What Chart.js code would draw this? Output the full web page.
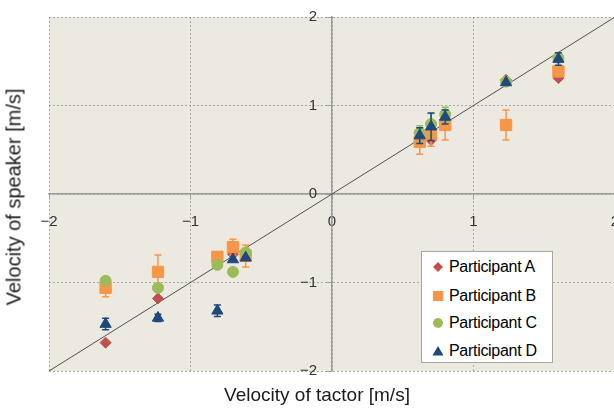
<!DOCTYPE html>
<html>
<head>
<meta charset="utf-8">
<script src="https://cdn.jsdelivr.net/npm/chart.js@4/dist/chart.umd.min.js"></script>
<style>
  html, body { margin: 0; padding: 0; background: #ffffff; overflow: hidden; }
  #wrap { position: relative; width: 614px; height: 408px; overflow: hidden; }
  #box { position: absolute; left: 0; top: 0; width: 624px; height: 408px; }
  .title { position: absolute; font-family: "Liberation Sans", Arial, sans-serif; color: #1a1a1a; white-space: nowrap; }
  #xtitle { left: 0; width: 634px; top: 384px; text-align: center; font-size: 19px; }
  #ytitle { left: 14px; top: 197px; transform: translate(-50%, -50%) rotate(-90deg); font-size: 20px; }
  #legend { position: absolute; left: 421px; top: 251px; width: 130px; height: 110px; background: #ffffff; border: 1px solid #a6a6a6; font-family: "Liberation Sans", Arial, sans-serif; font-size: 16px; color: #000; }
  .item { position: absolute; left: 10px; height: 20px; line-height: 20px; white-space: nowrap; letter-spacing: -0.3px; }
  .item svg { position: absolute; left: 0; top: 4px; }
  .item span { position: absolute; left: 17px; top: 0; }
</style>
</head>
<body>
<div id="wrap">
  <div id="box"><canvas id="c" width="624" height="408"></canvas></div>
  <div class="title" id="xtitle">Velocity of tactor [m/s]</div>
  <div class="title" id="ytitle">Velocity of speaker [m/s]</div>
  <div id="legend"></div>
</div>
<script>
// ---- data ----
const tactor = [-1.60, -1.23, -0.81, -0.70, -0.61, 0.62, 0.70, 0.80, 1.23, 1.60];
const participantA = [-1.68, -1.18, -0.76, -0.68, -0.70, 0.70, 0.61, 0.84, 1.29, 1.31];
const participantB = [-1.06, -0.88, -0.71, -0.60, -0.70, 0.59, 0.67, 0.78, 0.78, 1.385];
const participantC = [-0.98, -1.06, -0.80, -0.88, -0.66, 0.69, 0.79, 0.90, 1.27, 1.54];
const participantD = [-1.47, -1.40, -1.32, -0.74, -0.72, 0.66, 0.76, 0.87, 1.26, 1.525];
const errorA = [0, 0, 0, 0, 0, 0, 0, 0, 0, 0];
const errorB = [0.10, 0.19, 0.05, 0.09, 0.125, 0.14, 0.13, 0.17, 0.17, 0.05];
const errorC = [0, 0, 0, 0, 0, 0.08, 0.12, 0.08, 0, 0];
const errorD = [0.065, 0.04, 0.065, 0, 0, 0.09, 0.155, 0.08, 0, 0.07];
const seriesLabels = ["Participant A", "Participant B", "Participant C", "Participant D"];
const refLineX = [-2, 2];
const refLineY = [-2, 2];
const tickValues = [-2, -1, 0, 1, 2];

const colors = ["#C0504D", "#F79646", "#9BBB59", "#1F497D"];
const styles = ["rectRot", "rect", "circle", "triangle"];
const radii = [5.5, 8, 5.5, 6.5];
const values = [participantA, participantB, participantC, participantD];
const errors = [errorA, errorB, errorC, errorD];

const pts = (xs, ys) => xs.map((x, i) => ({ x: x, y: ys[i] }));

const datasets = values.map((v, k) => ({
  type: 'scatter',
  label: seriesLabels[k],
  data: pts(tactor, v),
  errors: errors[k],
  backgroundColor: colors[k],
  borderColor: colors[k],
  borderWidth: 1,
  pointStyle: styles[k],
  pointRadius: radii[k],
  pointHoverRadius: radii[k],
  order: 3 - k
}));
datasets.push({
  type: 'line',
  label: 'y = x',
  data: pts(refLineX, refLineY),
  borderColor: '#505050',
  borderWidth: 1,
  pointRadius: 0,
  fill: false,
  order: 10
});

const bgPlugin = {
  id: 'plotBg',
  beforeDraw(chart) {
    const a = chart.chartArea, ctx = chart.ctx;
    ctx.save();
    ctx.fillStyle = '#ECEAE0';
    ctx.fillRect(a.left, a.top, a.right - a.left, a.bottom - a.top);
    ctx.restore();
  }
};

const errPlugin = {
  id: 'errBars',
  beforeDatasetDraw(chart, args) {
    const ds = chart.data.datasets[args.index];
    if (!ds.errors) return;
    const ctx = chart.ctx, ys = chart.scales.y, xs = chart.scales.x;
    ctx.save();
    ctx.strokeStyle = ds.borderColor;
    ctx.lineWidth = 1.5;
    ds.data.forEach((p, i) => {
      const e = ds.errors[i];
      if (!e) return;
      const px = xs.getPixelForValue(p.x);
      const y1 = ys.getPixelForValue(p.y + e);
      const y2 = ys.getPixelForValue(p.y - e);
      ctx.beginPath();
      ctx.moveTo(px, y1); ctx.lineTo(px, y2);
      ctx.moveTo(px - 3.5, y1); ctx.lineTo(px + 3.5, y1);
      ctx.moveTo(px - 3.5, y2); ctx.lineTo(px + 3.5, y2);
      ctx.stroke();
    });
    ctx.restore();
  }
};

const fmt = v => (v < 0 ? '\u2212' + Math.abs(v) : String(v));
const fmtY = v => fmt(v) + '\u2002\u2002';
const gridCommon = { color: '#a8a8a8', lineWidth: 1, tickLength: 5, tickColor: '#a0a0a0', drawTicks: true };
const tickFont = { family: '"Liberation Sans", Arial, sans-serif', size: 15 };

new Chart(document.getElementById('c'), {
  data: { datasets: datasets },
  plugins: [bgPlugin, errPlugin],
  options: {
    responsive: false,
    animation: false,
    events: [],
    layout: { padding: { left: 49, top: 17, right: 2, bottom: 37 } },
    plugins: { legend: { display: false }, tooltip: { enabled: false } },
    scales: {
      x: {
        type: 'linear', min: -2, max: 2,
        position: { y: 0 },
        afterFit: s => { s.height = 0; s.paddingLeft = 0; s.paddingRight = 0; },
        afterBuildTicks: s => { s.ticks = tickValues.map(v => ({ value: v })); },
        grid: Object.assign({}, gridCommon),
        border: { display: true, color: '#9a9a9a', width: 1.5, dash: [2, 2] },
        ticks: { callback: fmt, color: '#333333', padding: 14, maxRotation: 0, autoSkip: false, font: tickFont }
      },
      y: {
        type: 'linear', min: -2, max: 2,
        position: { x: 0 },
        afterFit: s => { s.width = 0; s.paddingTop = 0; s.paddingBottom = 0; },
        afterBuildTicks: s => { s.ticks = tickValues.map(v => ({ value: v })); },
        grid: Object.assign({}, gridCommon),
        border: { display: true, color: '#9a9a9a', width: 1.5, dash: [2, 2] },
        ticks: { callback: fmtY, color: '#333333', padding: 10, autoSkip: false, font: tickFont }
      }
    }
  }
});

// ---- legend ----
const legend = document.getElementById('legend');
const tops = [5, 34, 61, 89];
seriesLabels.forEach((lab, k) => {
  const it = document.createElement('div');
  it.className = 'item';
  it.style.top = tops[k] + 'px';
  let shape = '';
  const c = colors[k];
  if (k === 0) shape = `<polygon points="6,1 11,6 6,11 1,6" fill="${c}"/>`;
  if (k === 1) shape = `<rect x="1" y="1" width="10" height="10" fill="${c}"/>`;
  if (k === 2) shape = `<circle cx="6" cy="6" r="5" fill="${c}"/>`;
  if (k === 3) shape = `<polygon points="6,1 11.5,10.5 0.5,10.5" fill="${c}"/>`;
  it.innerHTML = `<svg width="12" height="12" viewBox="0 0 12 12">${shape}</svg><span>${lab}</span>`;
  legend.appendChild(it);
});
</script>
</body>
</html>
